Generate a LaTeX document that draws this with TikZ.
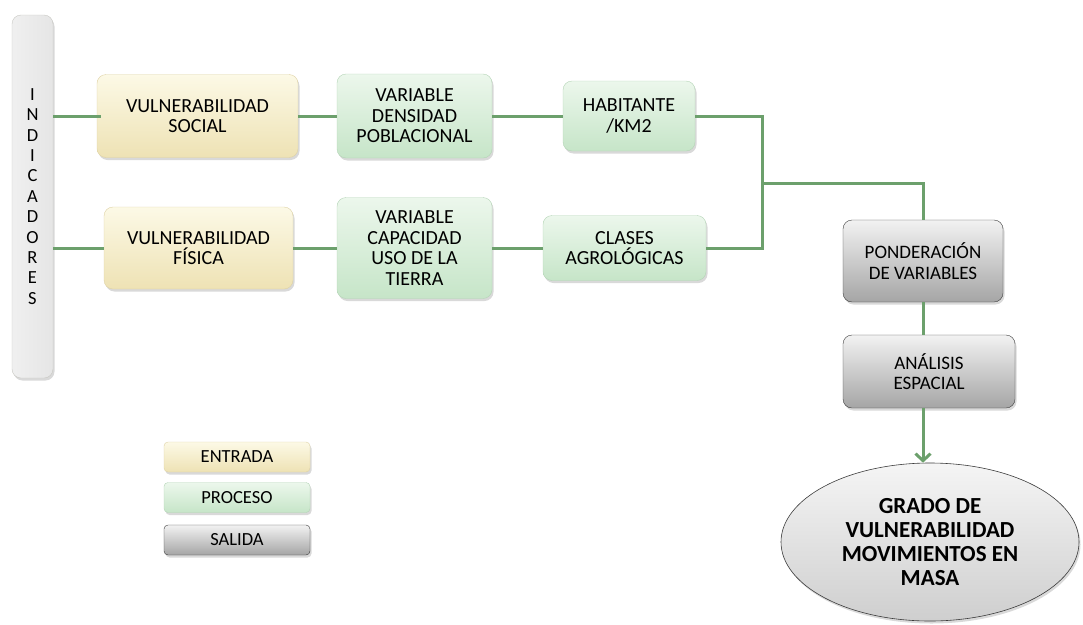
\documentclass[tikz,border=0pt]{standalone}
\usepackage{fontspec}
\setmainfont{Carlito}
\usetikzlibrary{shapes.geometric,shadows,arrows.meta}
\definecolor{linea}{RGB}{108,160,108}
\definecolor{entradaArriba}{RGB}{252,249,230}
\definecolor{entradaAbajo}{RGB}{238,226,180}
\definecolor{entradaBorde}{RGB}{222,210,165}
\definecolor{procesoArriba}{RGB}{236,247,236}
\definecolor{procesoAbajo}{RGB}{198,229,200}
\definecolor{procesoBorde}{RGB}{180,212,182}
\definecolor{salidaArriba}{RGB}{242,242,242}
\definecolor{salidaAbajo}{RGB}{165,165,165}
\definecolor{salidaBorde}{RGB}{60,60,60}
\definecolor{barraBorde}{RGB}{200,200,195}
\tikzset{
	caja/.style={rounded corners=9pt, align=center, inner sep=2pt,
		drop shadow={opacity=0.3, shadow xshift=1.5pt, shadow yshift=-2.5pt}},
	entrada/.style={caja, draw=entradaBorde, top color=entradaArriba, bottom color=entradaAbajo},
	proceso/.style={caja, draw=procesoBorde, top color=procesoArriba, bottom color=procesoAbajo},
	salida/.style={caja, draw=salidaBorde, top color=salidaArriba, bottom color=salidaAbajo},
	conector/.style={draw=linea, line width=3pt}
}
\begin{document}
\begin{tikzpicture}[x=1pt, y=-1pt, font=\fontsize{20}{20.5}\selectfont]
	\useasboundingbox (0,0) rectangle (1083,624);
	\node[caja, draw=barraBorde, left color=white!88!gray, right color=white!80!gray,
		minimum width=41pt, minimum height=363pt, font=\fontsize{18.5}{20.4}\selectfont] (IND) at (32.5,196.5)
		{I\\N\\D\\I\\C\\A\\D\\O\\R\\E\\S};
	\begin{scope}[every node/.style={entrada}]
		\node[minimum width=201pt, minimum height=83pt] (VS) at (197.5,116) {VULNERABILIDAD\\SOCIAL};
		\node[minimum width=189pt, minimum height=82pt] (VF) at (198.5,248) {VULNERABILIDAD\\FÍSICA};
	\end{scope}
	\begin{scope}[every node/.style={proceso}]
		\node[minimum width=155pt, minimum height=84pt] (VD) at (414.5,116) {VARIABLE\\DENSIDAD\\POBLACIONAL};
		\node[minimum width=132pt, minimum height=70pt] (HK) at (629,116) {HABITANTE\\/KM2};
		\node[minimum width=155pt, minimum height=101pt] (VC) at (414.5,248) {VARIABLE\\CAPACIDAD\\USO DE LA\\TIERRA};
		\node[minimum width=163pt, minimum height=65pt] (CA) at (624.5,248) {CLASES\\AGROLÓGICAS};
	\end{scope}
	\begin{scope}[every node/.style={salida, font=\fontsize{19}{20.5}\selectfont}]
		\node[minimum width=160pt, minimum height=82pt] (PV) at (923,261) {PONDERACIÓN\\DE VARIABLES};
		\node[minimum width=172pt, minimum height=73pt] (AE) at (929,371.5) {ANÁLISIS\\ESPACIAL};
		\node[ellipse, draw=salidaBorde, line width=0.6pt, top color=white!92!gray, bottom color=white!62!gray,
			minimum width=298pt, minimum height=158pt, font=\fontsize{23}{24}\selectfont\bfseries] (GV) at (930,542)
			{GRADO DE\\VULNERABILIDAD\\MOVIMIENTOS EN\\MASA};
	\end{scope}
	\begin{scope}[every node/.style={minimum width=146pt, minimum height=30pt, rounded corners=4pt,
			font=\fontsize{18.5}{20}\selectfont}]
		\node[entrada, rounded corners=4pt] (LE) at (237,457) {ENTRADA};
		\node[proceso, rounded corners=4pt] (LP) at (237,497.5) {PROCESO};
		\node[salida, rounded corners=4pt] (LS) at (237,540) {SALIDA};
	\end{scope}
	\begin{scope}[every edge/.style={conector}]
		\path (VS.west -| IND.east) edge ([xshift=4pt]VS.west);
		\path (VF.west -| IND.east) edge (VF.west);
		\path (VS) edge (VD);
		\path (VD) edge (HK);
		\path (VF) edge (VC);
		\path (VC) edge (CA);
	\end{scope}
	\coordinate (J) at (762,183);
	\draw[conector] (HK.east) -- (HK.east -| J) -- (CA.east -| J) -- (CA.east);
	\draw[conector] (J) -| (PV.north);
	\draw[conector] (PV.south) -- (PV.south |- AE.north);
	\draw[conector, -{Straight Barb[length=7pt, width=15pt]}] (AE.south -| PV) -- (GV.north -| PV);
\end{tikzpicture}
\end{document}
